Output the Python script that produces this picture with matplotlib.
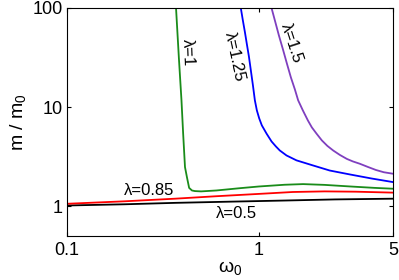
import matplotlib
matplotlib.use("Agg")
import matplotlib.pyplot as plt

plt.rcParams['font.family'] = ['Liberation Sans', 'DejaVu Sans']
plt.rcParams['mathtext.fontset'] = 'custom'
plt.rcParams['mathtext.rm'] = 'Liberation Sans'
plt.rcParams['mathtext.it'] = 'Liberation Sans:italic'

# lambda = 0.5 (black)
w_05 = [0.1, 0.2, 0.366, 0.7, 1.36, 2.5, 5.0]
m_05 = [1.016, 1.045, 1.08, 1.11, 1.14, 1.17, 1.19]

# lambda = 0.85 (red)
w_085 = [0.1, 0.2, 0.366, 0.6, 1.0, 1.5, 2.2, 3.2, 5.0]
m_085 = [1.057, 1.12, 1.19, 1.26, 1.33, 1.39, 1.41, 1.40, 1.37]

# lambda = 1 (green)
w_1 = [0.370, 0.383, 0.395, 0.403, 0.412, 0.422, 0.433, 0.448, 0.464, 0.5,
       0.6, 0.8, 1.0, 1.36, 1.7, 2.2, 3.0, 4.0, 5.0]
m_1 = [100, 31, 11.7, 5.4, 2.48, 1.95, 1.53, 1.44, 1.42, 1.41,
       1.44, 1.52, 1.58, 1.645, 1.67, 1.64, 1.58, 1.53, 1.50]

# lambda = 1.25 (blue)
w_125 = [0.805, 0.825, 0.846, 0.866, 0.887, 0.908, 0.931, 0.953, 0.976, 1.004,
         1.036, 1.097, 1.164, 1.226, 1.285, 1.393, 1.57, 1.91, 2.34, 2.98,
         3.88, 5.0]
m_125 = [100, 75.1, 56.8, 43.0, 32.5, 23.5, 16.6, 11.7, 9.26, 7.69,
         6.54, 5.39, 4.50, 4.01, 3.65, 3.25, 2.90, 2.58, 2.29, 2.09,
         1.90, 1.75]

# lambda = 1.5 (purple)
w_15 = [1.164, 1.219, 1.271, 1.339, 1.399, 1.468, 1.540, 1.602, 1.695, 1.800,
        1.888, 1.998, 2.129, 2.274, 2.438, 2.642, 2.873, 3.087, 3.357, 3.696,
        4.069, 4.478, 5.0]
m_15 = [100, 71.7, 53.0, 37.4, 27.6, 19.95, 15.1, 11.7, 9.26, 7.34,
        6.24, 5.39, 4.61, 4.06, 3.65, 3.29, 3.00, 2.83, 2.68, 2.49,
        2.32, 2.20, 2.125]

xticks = [0.1, 1, 5]
xticklabels = ['0.1', '1', '5']
yticks = [1, 10, 100]
yticklabels = ['1', '10', '100']

fig = plt.figure(figsize=(3.99, 2.80), dpi=100)
ax = fig.add_axes([67/399, 1-236/280, (393-67)/399, (236-8)/280])

lw = 1.3
ax.plot(w_05, m_05, color='black', lw=lw)
ax.plot(w_085, m_085, color='#ff0000', lw=lw)
ax.plot(w_1, m_1, color='#1a8c1a', lw=lw)
ax.plot(w_125, m_125, color='#0000ff', lw=lw)
ax.plot(w_15, m_15, color='#7f3fbf', lw=lw)

ax.set_xscale('log')
ax.set_yscale('log')
ax.set_xlim(0.1, 5)
ax.set_ylim(0.5, 100)
ax.set_xticks(xticks)
ax.set_xticklabels(xticklabels)
ax.set_yticks(yticks)
ax.set_yticklabels(yticklabels)
ax.minorticks_off()
ax.tick_params(which='both', direction='in', top=True, right=True,
               length=3, width=0.8, labelsize=13)
ax.tick_params(axis='y', pad=3)
ax.tick_params(axis='x', pad=4)

fs = 12
ax.text(0.424, 35.7, 'λ=1', rotation=-88, ha='center', va='center', fontsize=fs)
ax.text(0.748, 32.5, 'λ=1.25', rotation=-78, ha='center', va='center', fontsize=fs)
ax.text(1.486, 44, 'λ=1.5', rotation=-72, ha='center', va='center', fontsize=fs)
ax.text(0.267, 1.44, 'λ=0.85', ha='center', va='center', fontsize=fs)
ax.text(0.768, 0.844, 'λ=0.5', ha='center', va='center', fontsize=fs)

ax.set_xlabel(r'$\mathregular{\omega_0}$', fontsize=14)
ax.set_ylabel(r'$\mathregular{m\ /\ m_0}$', fontsize=14)
ax.xaxis.set_label_coords(0.5, -0.10)
ax.yaxis.set_label_coords(-0.12, 0.5)

fig.savefig('out.png', dpi=100)
